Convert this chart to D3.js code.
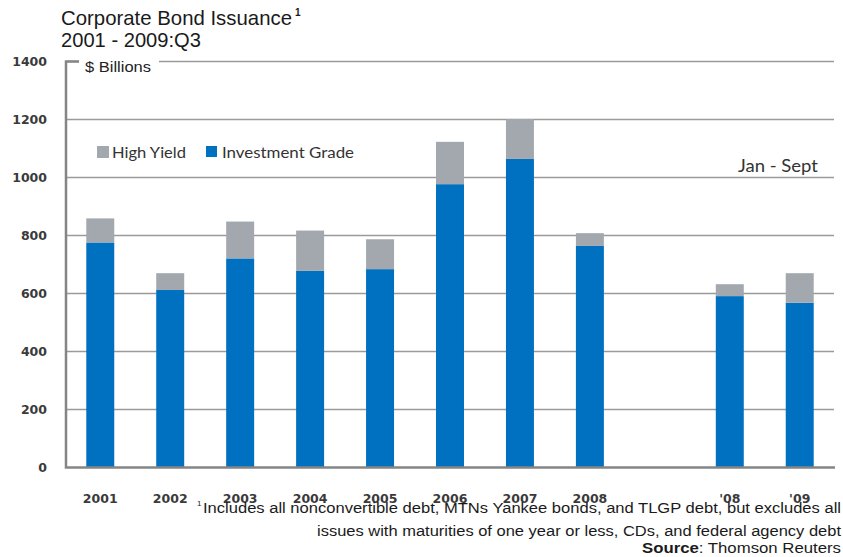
<!DOCTYPE html>
<html><head><meta charset="utf-8">
<script src="https://cdn.jsdelivr.net/npm/d3@7"></script>
<style>body{margin:0;background:#fff;}svg{display:block;}</style>
</head><body>
<svg id="c" width="843" height="557"></svg>
<script>
const categories = ["2001","2002","2003","2004","2005","2006","2007","2008","gap","'08","'09"];
const investmentGrade = [776, 612, 721, 678, 684, 977, 1064, 764, null, 591, 568];
const highYield = [83, 58, 127, 139, 103, 146, 138, 44, null, 41, 102];
const yTicks = [0, 200, 400, 600, 800, 1000, 1200, 1400];
const seriesNames = ["High Yield", "Investment Grade"];
const colors = {ig: "#0070C0", hy: "#A2A8AE"};

(function(){
const svg = d3.select("#c");
const pLeft = 66, pRight = 834, pTop = 61.5, pBottom = 467.5;
const x = d3.scaleBand().domain(categories).range([pLeft, pRight]).paddingInner(0.6).paddingOuter(0.29);
const y = d3.scaleLinear().domain([0, 1400]).range([pBottom, pTop]);

svg.append("g").selectAll("line").data(yTicks.filter(t => t > 0)).join("line")
  .attr("x1", pLeft).attr("x2", pRight).attr("y1", d => y(d)).attr("y2", d => y(d))
  .attr("stroke", "#9a9a9a").attr("stroke-width", 1.6);

svg.append("rect").attr("x", 79).attr("y", y(1400) - 3).attr("width", 80).attr("height", 6).attr("fill", "#fff");
svg.append("text").attr("x", 85).attr("y", 72).text("$ Billions")
  .attr("font-family", "Liberation Sans, Arial, sans-serif").attr("font-size", 14).attr("fill", "#222")
  .attr("textLength", 66).attr("lengthAdjust", "spacingAndGlyphs");

const data = categories.map((c, i) => ({c, ig: investmentGrade[i], hy: highYield[i]})).filter(d => d.ig !== null);
const g = svg.append("g");
g.selectAll("rect.ig").data(data).join("rect").attr("class", "ig")
  .attr("x", d => x(d.c)).attr("width", x.bandwidth())
  .attr("y", d => y(d.ig)).attr("height", d => y(0) - y(d.ig)).attr("fill", colors.ig);
g.selectAll("rect.hy").data(data).join("rect").attr("class", "hy")
  .attr("x", d => x(d.c)).attr("width", x.bandwidth())
  .attr("y", d => y(d.ig + d.hy)).attr("height", d => y(d.ig) - y(d.ig + d.hy)).attr("fill", colors.hy);

svg.append("path").attr("d", `M${pLeft+13},${pTop} H${pLeft} V${pBottom} H${pRight+1}`)
  .attr("fill", "none").attr("stroke", "#858585").attr("stroke-width", 2.5);

svg.append("g").selectAll("text").data(yTicks).join("text")
  .attr("x", 47).attr("y", d => y(d) + 4.5).attr("text-anchor", "end").text(d => d)
  .attr("font-family", "DejaVu Sans, sans-serif").attr("font-weight", "bold").attr("font-size", 12.5).attr("fill", "#3a3a3a");

svg.append("g").selectAll("text").data(categories.filter(c => c !== "gap")).join("text")
  .attr("x", d => x(d) + x.bandwidth()/2).attr("y", 503).attr("text-anchor", "middle").text(d => d)
  .attr("font-family", "DejaVu Sans, sans-serif").attr("font-weight", "bold").attr("font-size", 12.5).attr("fill", "#3a3a3a");

const lg = svg.append("g").attr("font-family", "Lato, Carlito, sans-serif").attr("font-size", 15.5).attr("fill", "#333");
lg.append("rect").attr("x", 97).attr("y", 146).attr("width", 12).attr("height", 12).attr("fill", colors.hy);
lg.append("text").attr("x", 112).attr("y", 158).text(seriesNames[0]).attr("textLength", 74).attr("lengthAdjust", "spacingAndGlyphs");
lg.append("rect").attr("x", 206).attr("y", 146).attr("width", 11).attr("height", 11).attr("fill", colors.ig);
lg.append("text").attr("x", 222).attr("y", 158).text(seriesNames[1]).attr("textLength", 132).attr("lengthAdjust", "spacingAndGlyphs");

svg.append("text").attr("x", 738).attr("y", 172).text("Jan - Sept")
  .attr("font-family", "Lato, Carlito, sans-serif").attr("font-size", 17).attr("fill", "#333")
  .attr("textLength", 80).attr("lengthAdjust", "spacingAndGlyphs");

const tt = svg.append("g").attr("font-family", "Liberation Sans, Arial, sans-serif").attr("font-size", 21).attr("fill", "#1a1a1a");
tt.append("text").attr("x", 61).attr("y", 25).text("Corporate Bond Issuance")
  .attr("textLength", 231).attr("lengthAdjust", "spacingAndGlyphs");
tt.append("text").attr("x", 295).attr("y", 16).text("1").attr("font-size", 10).attr("font-weight", "bold");
tt.append("text").attr("x", 61).attr("y", 47).text("2001 - 2009:Q3")
  .attr("textLength", 140).attr("lengthAdjust", "spacingAndGlyphs");

const fn = svg.append("g").attr("font-family", "Liberation Sans, Arial, sans-serif").attr("font-size", 14).attr("fill", "#1a1a1a");
fn.append("text").attr("x", 197).attr("y", 506).text("1").attr("font-size", 8);
fn.append("text").attr("x", 203).attr("y", 513).text("Includes all nonconvertible debt, MTNs Yankee bonds, and TLGP debt, but excludes all")
  .attr("textLength", 638).attr("lengthAdjust", "spacingAndGlyphs");
fn.append("text").attr("x", 317).attr("y", 536).text("issues with maturities of one year or less, CDs, and federal agency debt")
  .attr("textLength", 524).attr("lengthAdjust", "spacingAndGlyphs");
const f3 = fn.append("text").attr("x", 642).attr("y", 553).attr("textLength", 199).attr("lengthAdjust", "spacingAndGlyphs");
f3.append("tspan").text("Source").attr("font-weight", "bold");
f3.append("tspan").text(": Thomson Reuters");
})();
</script>
</body></html>
